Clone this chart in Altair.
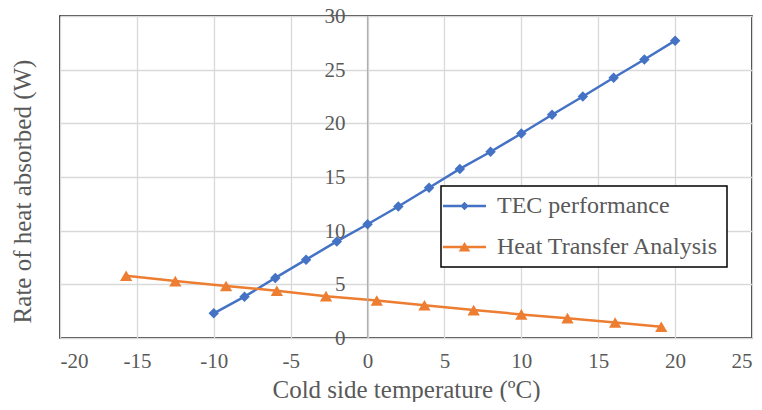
import altair as alt
import pandas as pd

# ---- data ----
series = ["TEC performance", "Heat Transfer Analysis"]
colors = ["#4472C4", "#ED7D31"]

tec_x = [-10, -8, -6, -4, -2, 0, 2, 4, 6, 8, 10, 12, 14, 16, 18, 20]
tec_y = [2.3, 3.85, 5.6, 7.3, 9.0, 10.6, 12.25, 14.0, 15.75, 17.35, 19.05, 20.8, 22.5, 24.25, 25.95, 27.7]

hta_x = [-15.7, -12.5, -9.2, -5.9, -2.7, 0.6, 3.7, 6.9, 10.0, 13.0, 16.1, 19.1]
hta_y = [5.8, 5.3, 4.85, 4.4, 3.9, 3.5, 3.05, 2.6, 2.2, 1.85, 1.45, 1.05]

x_ticks = [-20, -15, -10, -5, 0, 5, 10, 15, 20, 25]
y_ticks = [0, 5, 10, 15, 20, 25, 30]

x_title = "Cold side temperature (\u00baC)"
y_title = "Rate of heat absorbed (W)"

# ---- styling ----
FONT = "Liberation Serif"
TXT = "#595959"
GRID = "#d9d9d9"

df = pd.DataFrame({
    "x": tec_x + hta_x,
    "y": tec_y + hta_y,
    "series": [series[0]] * len(tec_x) + [series[1]] * len(hta_x),
})
ylab_df = pd.DataFrame({"tick": y_ticks, "x0": [0] * len(y_ticks)})
leg_df = pd.DataFrame({"series": series})

xs = alt.Scale(domain=[x_ticks[0], x_ticks[-1]], nice=False, zero=False)
ys = alt.Scale(domain=[y_ticks[0], y_ticks[-1]], nice=False, zero=False)
cscale = alt.Scale(domain=series, range=colors)

xaxis = alt.Axis(
    values=x_ticks, ticks=False, domain=False, grid=True,
    gridColor=GRID, gridWidth=1.3,
    labelFont=FONT, labelFontSize=21, labelColor=TXT, labelPadding=12,
    labelOverlap=False, labelExpr="'' + datum.value",
    title=x_title, titleFont=FONT, titleFontSize=25, titleColor=TXT,
    titleFontWeight="normal", titleBaseline="alphabetic", titleY=59,
)
yaxis = alt.Axis(
    values=y_ticks, ticks=False, domain=False, grid=True, labels=False,
    gridColor=GRID, gridWidth=1.3,
    title=y_title, titleFont=FONT, titleFontSize=25, titleColor=TXT,
    titleFontWeight="normal", titleAngle=270, titleAlign="center",
    titleBaseline="middle", titleX=-38, titleY=175,
)

base = alt.Chart(df)

lines = base.mark_line(strokeWidth=2.5).encode(
    x=alt.X("x:Q", scale=xs, axis=xaxis),
    y=alt.Y("y:Q", scale=ys, axis=yaxis),
    color=alt.Color("series:N", scale=cscale, legend=None),
)

points = base.mark_point(filled=True, opacity=1).encode(
    x=alt.X("x:Q", scale=xs, axis=xaxis),
    y=alt.Y("y:Q", scale=ys, axis=yaxis),
    color=alt.Color("series:N", scale=cscale, legend=None),
    shape=alt.Shape("series:N", scale=alt.Scale(domain=series, range=["diamond", "triangle-up"]), legend=None),
    size=alt.Size("series:N", scale=alt.Scale(domain=series, range=[110, 150]), legend=None),
)

zero_line = alt.Chart(ylab_df).mark_rule(color="#b0b0b0", strokeWidth=1.3).encode(
    x=alt.X("min(x0):Q", scale=xs, axis=xaxis),
)

ylabels = alt.Chart(ylab_df).mark_text(
    align="right", baseline="middle", dx=-22, dy=1, font=FONT, fontSize=21, color=TXT
).encode(
    x=alt.X("x0:Q", scale=xs, axis=xaxis),
    y=alt.Y("tick:Q", scale=ys, axis=yaxis),
    text=alt.Text("tick:Q"),
)

# legend symbols: short line with the series marker on it
legend_paths = [
    "M-1.8,-0.13L2.5,-0.13L2.5,0.13L-1.8,0.13Z M0.35,-0.43L0.78,0L0.35,0.43L-0.08,0Z",
    "M-1.8,-0.13L2.5,-0.13L2.5,0.13L-1.8,0.13Z M0.35,-0.5L0.93,0.45L-0.23,0.45Z",
]
leg = alt.Legend(
    title=None, orient="none", legendX=381, legendY=170,
    symbolSize=400, symbolStrokeWidth=0, symbolOpacity=1,
    labelFont=FONT, labelFontSize=24, labelColor=TXT, labelOffset=24, labelLimit=400,
    padding=8, rowPadding=17, strokeColor="black", fillColor="white",
)
legend_layer = alt.Chart(leg_df).mark_point(filled=True, opacity=0).encode(
    color=alt.Color("series:N", scale=cscale, legend=leg),
    shape=alt.Shape("series:N", scale=alt.Scale(domain=series, range=legend_paths), legend=leg),
)

chart = (
    alt.layer(lines, zero_line, points, ylabels, legend_layer)
    .resolve_scale(color="independent", shape="independent")
    .properties(
        width=692, height=322,
        autosize=alt.AutoSizeParams(type="none"),
        padding={"left": 52, "top": 8, "right": 2, "bottom": 64},
    )
    .configure_view(stroke="black", strokeWidth=1.5)
    .configure_legend(strokeWidth=1.5)
)

chart.save("out.html", embed_options={"renderer": "svg", "actions": False})
